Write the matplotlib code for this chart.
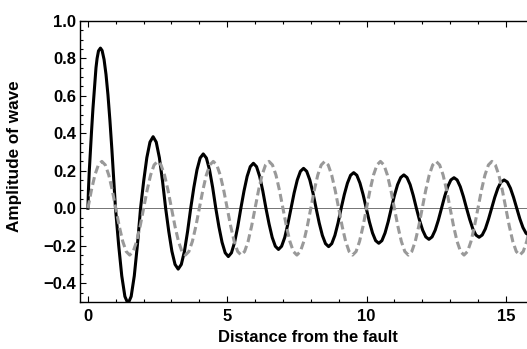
import numpy as np
import matplotlib
matplotlib.use("Agg")
import matplotlib.pyplot as plt
from matplotlib.ticker import MultipleLocator

plt.rcParams['font.family'] = ['Liberation Sans', 'DejaVu Sans']
plt.rcParams['font.weight'] = 'bold'

# solid curve, first lobe
x_start = [0, 0.02, 0.05, 0.09, 0.13, 0.18, 0.23, 0.29, 0.33, 0.38, 0.45,
           0.51, 0.58, 0.65, 0.72, 0.79, 0.86, 0.92]
y_start = [0, 0.10, 0.20, 0.31, 0.41, 0.53, 0.63, 0.75, 0.80, 0.84, 0.855,
           0.842, 0.794, 0.714, 0.605, 0.469, 0.315, 0.172]

# solid curve after the first zero, sampled every 0.1125 from x = 0.99
x_wave0, x_wave_step = 0.99, 0.1125
y_wave = [
    0, -0.195, -0.361, -0.471, -0.51, -0.471, -0.361, -0.195,
    0, 0.146, 0.270, 0.353, 0.382, 0.353, 0.270, 0.146,
    0, -0.124, -0.230, -0.300, -0.325, -0.300, -0.230, -0.124,
    0, 0.111, 0.205, 0.268, 0.290, 0.268, 0.205, 0.111,
    0, -0.099, -0.182, -0.238, -0.258, -0.238, -0.182, -0.099,
    0, 0.092, 0.170, 0.222, 0.240, 0.222, 0.170, 0.092,
    0, -0.084, -0.156, -0.203, -0.220, -0.203, -0.156, -0.084,
    0, 0.082, 0.151, 0.197, 0.213, 0.197, 0.151, 0.082,
    0, -0.079, -0.145, -0.189, -0.205, -0.189, -0.145, -0.079,
    0, 0.073, 0.134, 0.176, 0.190, 0.176, 0.134, 0.073,
    0, -0.072, -0.132, -0.173, -0.187, -0.173, -0.132, -0.072,
    0, 0.068, 0.126, 0.164, 0.178, 0.164, 0.126, 0.068,
    0, -0.064, -0.117, -0.153, -0.166, -0.153, -0.117, -0.064,
    0, 0.062, 0.115, 0.151, 0.163, 0.151, 0.115, 0.062,
    0, -0.059, -0.110, -0.143, -0.155, -0.143, -0.110, -0.059,
    0, 0.058, 0.107, 0.140, 0.151, 0.140, 0.107, 0.058,
    0, -0.056, -0.103, -0.134, -0.145,
]

# dashed reference wave, sampled every 0.125 from x = 0
x_ref_step = 0.125
y_ref = [
    0, 0.096, 0.177, 0.231, 0.25, 0.231, 0.177, 0.096, 0, -0.096, -0.177, -0.231, -0.25, -0.231, -0.177, -0.096,
    0, 0.096, 0.177, 0.231, 0.25, 0.231, 0.177, 0.096, 0, -0.096, -0.177, -0.231, -0.25, -0.231, -0.177, -0.096,
    0, 0.096, 0.177, 0.231, 0.25, 0.231, 0.177, 0.096, 0, -0.096, -0.177, -0.231, -0.25, -0.231, -0.177, -0.096,
    0, 0.096, 0.177, 0.231, 0.25, 0.231, 0.177, 0.096, 0, -0.096, -0.177, -0.231, -0.25, -0.231, -0.177, -0.096,
    0, 0.096, 0.177, 0.231, 0.25, 0.231, 0.177, 0.096, 0, -0.096, -0.177, -0.231, -0.25, -0.231, -0.177, -0.096,
    0, 0.096, 0.177, 0.231, 0.25, 0.231, 0.177, 0.096, 0, -0.096, -0.177, -0.231, -0.25, -0.231, -0.177, -0.096,
    0, 0.096, 0.177, 0.231, 0.25, 0.231, 0.177, 0.096, 0, -0.096, -0.177, -0.231, -0.25, -0.231, -0.177, -0.096,
    0, 0.096, 0.177, 0.231, 0.25, 0.231, 0.177, 0.096, 0, -0.096, -0.177, -0.231, -0.25, -0.231, -0.177, -0.096,
]

x_solid = np.concatenate([x_start, x_wave0 + x_wave_step * np.arange(len(y_wave))])
y_solid = np.concatenate([y_start, y_wave])
x_dash = x_ref_step * np.arange(len(y_ref))

fig = plt.figure(figsize=(5.27, 3.49), dpi=100)
ax = fig.add_axes([0.152, 0.135, 0.848, 0.805])

ax.axhline(0, color='0.45', lw=0.7, zorder=1)
ax.plot(x_solid, y_solid, color='black', lw=2.2, zorder=2)
ax.plot(x_dash, y_ref, color='#999999', lw=2.2, linestyle=(0, (2.6, 1.3)), zorder=3)

ax.set_xlim(-0.28, 15.76)
ax.set_ylim(-0.5, 1.0)
ax.xaxis.set_major_locator(MultipleLocator(5))
ax.xaxis.set_minor_locator(MultipleLocator(1))
ax.yaxis.set_major_locator(MultipleLocator(0.2))
ax.yaxis.set_minor_locator(MultipleLocator(0.05))
ax.yaxis.set_major_formatter(lambda v, p: ('%.1f' % v).replace('-', '\u2212'))

ax.tick_params(which='both', direction='in', top=True, right=False, width=0.8, labelsize=12)
ax.tick_params(which='major', length=4)
ax.tick_params(which='minor', length=2.5)
ax.tick_params(axis='x', pad=5)
ax.tick_params(axis='y', pad=3)
ax.spines['right'].set_visible(False)
for s in ['left', 'top', 'bottom']:
    ax.spines[s].set_linewidth(1.0)

ax.set_xlabel('Distance from the fault', fontsize=12, fontweight='bold')
ax.set_ylabel('Amplitude of wave', fontsize=12.3, fontweight='bold')
ax.xaxis.set_label_coords(0.509, -0.1)
ax.yaxis.set_label_coords(-0.130, 0.518)

fig.savefig('out.png', dpi=100)
